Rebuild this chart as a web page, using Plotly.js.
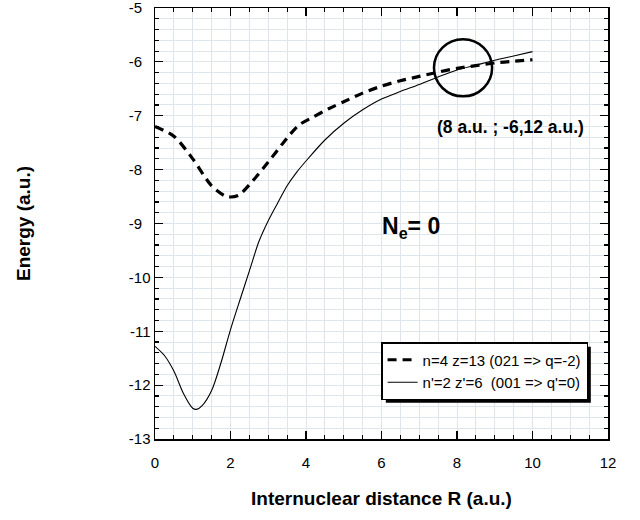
<!DOCTYPE html>
<html>
<head>
<meta charset="utf-8">
<script src="https://cdn.plot.ly/plotly-3.0.1.min.js"></script>
<style>html,body{margin:0;padding:0;background:#fff;}#chart{width:640px;height:520px;}</style>
</head>
<body>
<div id="chart"></div>
<script>
// Series 1: n=4 z=13 (dashed)
var dashR = [0, 0.5, 1.0, 1.5, 1.9, 2.2, 2.6, 3.0, 3.4, 3.8, 4.2, 4.6, 5.0, 5.5, 6.0, 6.5, 7.0, 7.5, 8.0, 8.5, 9.0, 9.5, 10.0];
var dashE = [-7.20, -7.38, -7.80, -8.30, -8.50, -8.48, -8.20, -7.86, -7.50, -7.18, -7.02, -6.87, -6.74, -6.58, -6.45, -6.35, -6.27, -6.19, -6.12, -6.07, -6.02, -5.99, -5.96];
// Series 2: n'=2 z'=6 (solid)
var solidR = [0, 0.25, 0.5, 0.75, 1.0, 1.1, 1.25, 1.5, 1.75, 2.0, 2.25, 2.5, 2.75, 3.0, 3.25, 3.5, 3.75, 4.0, 4.5, 5.0, 5.5, 6.0, 6.5, 7.0, 7.5, 8.0, 8.5, 9.0, 9.5, 10.0];
var solidE = [-11.28, -11.45, -11.74, -12.15, -12.43, -12.45, -12.38, -12.10, -11.58, -10.97, -10.42, -9.88, -9.34, -8.95, -8.62, -8.30, -8.05, -7.84, -7.45, -7.14, -6.89, -6.69, -6.55, -6.42, -6.28, -6.15, -6.06, -5.97, -5.89, -5.81];
var seriesNames = ["n=4 z=13 (021 => q=-2)", "n'=2 z'=6  (001 => q'=0)"];
var xTickVals = [0, 2, 4, 6, 8, 10, 12];
var xTickText = ['0', '2', '4', '6', '8', '10', '12'];
var yTickVals = [-13, -12, -11, -10, -9, -8, -7, -6, -5];
var yTickText = ['-13', '-12', '-11', '-10', '-9', '-8', '-7', '-6', '-5'];
var crossPoint = [8.16, -6.11];
var crossLabel = "(8 a.u. ; -6,12 a.u.)";

var gridCol = '#dfe5ec';
var fontFam = 'Arial, "Liberation Sans", sans-serif';
var NB = '\u00A0';
// left-align the y tick labels: pad short labels with non-breaking spaces
var yTickShown = yTickText.map(function(t){ return t.length < 3 ? t + NB + NB : t; });

var traces = [
  {x: dashR, y: dashE, name: seriesNames[0], type: 'scatter', mode: 'lines',
   line: {color: '#000', width: 3.2, dash: '9px,6px', shape: 'spline', smoothing: 0.8}},
  {x: solidR, y: solidE, name: seriesNames[1], type: 'scatter', mode: 'lines',
   line: {color: '#000', width: 1.1, shape: 'spline', smoothing: 0.8}}
];

var layout = {
  width: 640, height: 520,
  margin: {l: 155, r: 32, t: 8, b: 81},
  paper_bgcolor: '#fff', plot_bgcolor: '#fff',
  font: {family: fontFam, color: '#000', size: 15},
  showlegend: true,
  legend: {x: 0.956, y: 0.225, xanchor: 'right', yanchor: 'top',
    bgcolor: '#fff', bordercolor: '#000', borderwidth: 1.5,
    font: {family: fontFam, size: 15, color: '#000'},
    tracegroupgap: 0, itemwidth: 30},
  xaxis: {range: [-0.0001, 12.0001], tickmode: 'array', tickvals: xTickVals, ticktext: xTickText,
    ticks: 'inside', ticklen: 8, tickwidth: 1.2,
    tickcolor: '#000', showline: true, linecolor: '#000', linewidth: 1.5, mirror: 'allticks',
    showgrid: true, gridcolor: gridCol, gridwidth: 1, zeroline: false,
    minor: {dtick: 0.5, ticks: 'inside', ticklen: 4, tickcolor: '#000', showgrid: true, gridcolor: gridCol},
    tickfont: {size: 15}, ticklabelstandoff: 9, ticklabeloverflow: 'allow',
    title: {text: '<b>Internuclear distance R (a.u.)</b>', font: {size: 19}, standoff: 22}},
  yaxis: {range: [-13.0001, -4.9999], tickmode: 'array', tickvals: yTickVals, ticktext: yTickShown,
    ticks: 'inside', ticklen: 8, tickwidth: 1.2,
    tickcolor: '#000', showline: true, linecolor: '#000', linewidth: 1.5, mirror: 'allticks',
    showgrid: true, gridcolor: gridCol, gridwidth: 1, zeroline: false,
    minor: {dtick: 0.2, ticks: 'inside', ticklen: 4, tickcolor: '#000', showgrid: true, gridcolor: gridCol},
    tickfont: {size: 15}, ticklabelstandoff: 0, ticklabeloverflow: 'allow',
    title: {text: '<b>Energy (a.u.)</b>', font: {size: 19}, standoff: 93}},
  shapes: [
    {type: 'circle', xref: 'x', yref: 'y',
     x0: crossPoint[0] - 0.77, x1: crossPoint[0] + 0.77, y0: crossPoint[1] - 0.53, y1: crossPoint[1] + 0.53,
     line: {color: '#000', width: 2.5}, layer: 'above'}
  ],
  annotations: [
    {x: 9.43, y: -7.21, xref: 'x', yref: 'y', text: '<b>' + crossLabel + '</b>', showarrow: false,
     font: {size: 17.5, family: fontFam}},
    {x: 6.78, y: -9.08, xref: 'x', yref: 'y', text: '<b>N<sub>e</sub>= 0</b>', showarrow: false,
     font: {size: 23, family: fontFam}}
  ]
};

Plotly.newPlot('chart', traces, layout, {staticPlot: true, displayModeBar: false}).then(function(gd){
  // legend drop shadow, matched to the drawn legend box
  var lg = gd.querySelector('.legend');
  if (lg) {
    var r = lg.getBoundingClientRect();
    var fs = gd._fullLayout._size;
    var x0 = (r.left + 4 - fs.l) / fs.w, x1 = (r.right + 3.5 - fs.l) / fs.w;
    var y0 = 1 - (r.bottom + 3.5 - fs.t) / fs.h, y1 = 1 - (r.top + 4 - fs.t) / fs.h;
    Plotly.relayout(gd, {'shapes[1]': {type: 'rect', xref: 'paper', yref: 'paper', x0: x0, x1: x1, y0: y0, y1: y1,
      fillcolor: '#000', line: {width: 0}, layer: 'above'}});
  }
});
</script>
</body>
</html>
